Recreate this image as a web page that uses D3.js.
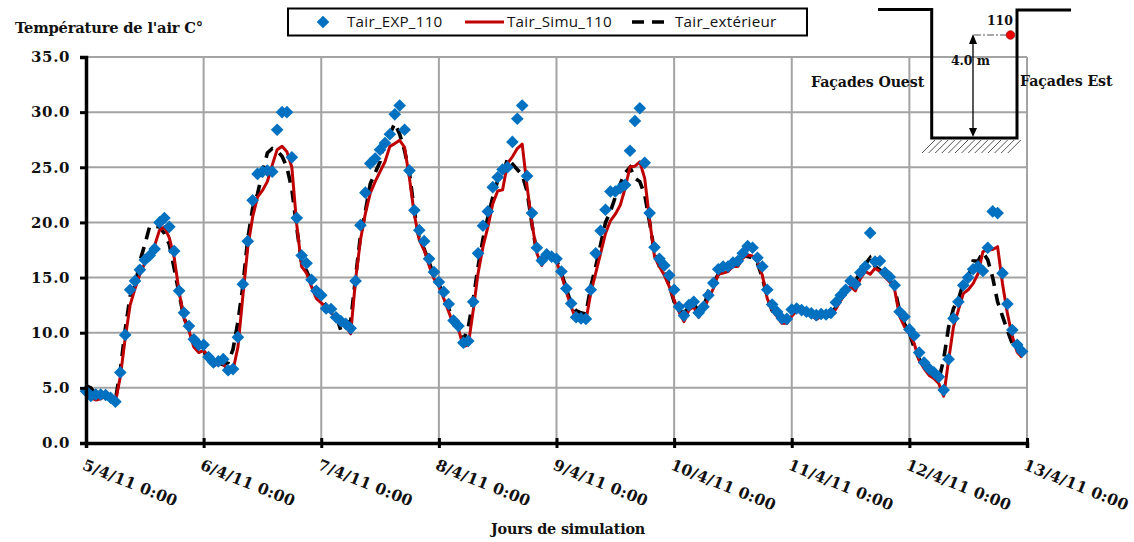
<!DOCTYPE html>
<html><head><meta charset="utf-8">
<script src="https://cdnjs.cloudflare.com/ajax/libs/d3/7.8.5/d3.min.js"></script>
<style>html,body{margin:0;padding:0;background:#fff}svg{display:block}
text{font-family:"DejaVu Serif",serif;font-weight:bold;fill:#111}</style></head>
<body><svg id="c" width="1134" height="542"></svg>
<script>
const yTicks=[0,5,10,15,20,25,30,35];
const dayLabels=["5/4/11 0:00","6/4/11 0:00","7/4/11 0:00","8/4/11 0:00","9/4/11 0:00","10/4/11 0:00","11/4/11 0:00","12/4/11 0:00","13/4/11 0:00"];
const yTitle="Température de l'air C°";
const xTitle="Jours de simulation";
const seriesNames=["Tair_EXP_110","Tair_Simu_110","Tair_extérieur"];
const tairExp=[4.7,4.26,4.4,4.4,4.35,4.1,3.75,6.4,9.8,13.9,14.7,15.7,16.6,17,17.6,20,20.4,19.6,17.4,13.8,11.8,10.6,9.4,8.9,
8.9,7.8,7.3,7.4,7.6,6.6,6.7,9.6,14.4,18.3,22,24.4,24.6,24.7,24.6,28.4,30,30,25.9,20.4,17,16.3,14.8,13.8,
13.4,12.2,12.15,11.4,11.05,10.8,10.4,14.7,19.75,22.7,25.35,25.8,26.6,27.2,28,29.8,30.6,28.4,24.7,21.1,19.3,18.3,16.7,15.5,
14.6,13.7,12.6,11.1,10.6,9.1,9.25,12.8,17.2,19.7,21,23.2,24.1,24.8,25,27.3,29.4,30.6,24.2,20.85,17.7,16.55,17.1,16.9,
16.7,15.55,14,12.65,11.4,11.3,11.25,13.9,17.2,19.25,21.15,22.8,22.8,23.1,23.4,26.5,29.2,30.35,25.4,20.85,17.75,16.7,16.1,15.2,
13.9,12.35,11.55,12.5,12.8,11.8,12.35,13.4,14.5,15.75,16,16,16.35,16.5,17.2,17.85,17.7,16.8,16,13.9,12.55,11.9,11.3,11.25,
12.1,12.2,12.05,11.9,11.75,11.6,11.7,11.65,11.8,12.75,13.4,13.9,14.7,14.4,15.45,16,19.05,16.45,16.5,15.45,15.05,14.3,11.9,11.45,
10.3,9.75,8.2,7.3,6.75,6.4,6,4.8,7.6,11.3,12.8,14.3,15,15.75,16,15.6,17.7,21,20.85,15.4,12.6,10.25,8.9,8.3];
const tairSimu=[4.5,4.1,3.9,4,4.3,4.1,3.7,6,9.5,12.5,14,15.3,16.3,16.8,17.9,19.3,19.6,18.6,16.8,13.7,11.3,10.2,8.7,8.2,
8.4,7.8,7,7.2,7.2,6.5,6.6,8.7,13.3,17.7,20.5,22.3,22.9,23.7,25.2,26.6,26.9,26.4,25,19.8,16,15.4,14.2,13.1,
12.7,12.3,11.8,11.3,10.8,10.6,9.9,14.8,18.4,20.8,22.65,23.7,24.6,25.5,26.9,27.15,27.45,26.8,24,20.7,18.4,17.5,16.1,14.9,
14.2,13.1,11.9,10.7,10.3,8.75,8.9,12,15.4,17.8,19.6,21.7,22.85,22.95,25.35,25.95,26.7,27.1,23.25,19.9,17.2,16.1,17.05,16.8,
16.4,15.3,13.7,12.35,11.15,11.1,11.1,13.6,15.4,17.2,19,20.15,20.75,21.55,23.1,25.05,25.1,25.5,24,20.2,16.9,16,15.2,14.2,
12.95,11.9,11,12.05,12.35,11.4,12.05,13.1,14,15.3,15.4,15.55,16,16,16.75,17.05,16.95,16.45,15.2,13.1,12.05,11.45,10.85,10.85,
11.5,12,12,11.8,11.6,11.2,11.5,11.45,11.5,12.15,12.95,13.7,14.2,13.8,14.9,15.55,15.3,15.85,15.55,15.05,14.6,13.9,11.5,10.55,
9.9,9,7.5,6.75,6.15,5.85,5.4,4.25,7.5,10.55,12.05,13.55,13.9,14.45,15.35,17.35,17.5,17.55,17.8,14.45,11.75,9.65,8.25,7.75];
const tairExt=[5.2,5,4.4,4.2,4.4,4.2,3.9,6.6,10.3,13.3,14.2,16.5,18,19.65,19.65,19.6,19,18,15.8,13.5,11.3,10.4,9.1,8.5,
8.4,7.5,7.2,7.3,7.1,7.3,8.5,11,14.2,18.5,21.3,22.6,24.5,26.3,26.7,26.5,26,25,23,19.5,16.3,15.6,14.6,13.5,
12.9,12.5,12,11.6,10.2,11,11,15,18.8,21,23.5,24.5,25.5,27.8,28,29,28,26.5,24.5,21,18.5,17.6,16.4,15.2,
14.4,13.4,12.2,11,10.7,9.3,10.5,13,16,18.5,20.5,22.3,23.8,24.2,25.8,25.3,24.8,24.3,22.8,19.8,17.2,16.3,17,16.9,
16.6,15.4,14,12.6,12,11.8,11.7,14.2,16,18,20,21,22.3,23.5,24.5,25,24,23.7,22.5,20,17.3,16,15.5,14.3,
12.8,12,11.8,12.3,12.6,12,12.2,13.8,14.5,15.3,15.6,15.8,16.3,17,17,16.9,16.8,16.3,15,13.2,12,11.5,11,11,
11.8,12.1,12.1,11.9,11.7,11.4,11.6,11.6,11.7,12.3,13,13.6,14.2,14.7,15.5,16.2,16.8,16,15.7,15.2,14.8,14,12,10.8,
10,8.6,7.6,7,6.4,6,5.7,7.6,10.5,12.2,13,14.5,15,16.5,16.5,17.3,16.6,15,12.8,11.5,10.2,9,8.5,8.2];

const svg=d3.select("#c");
const M={l:86,r:1027,t:57,b:443};
const t0=new Date(2011,3,5);
const hourDate=i=>d3.timeHour.offset(t0,i);
const dayDates=dayLabels.map((_,i)=>d3.timeDay.offset(t0,i));
const x=d3.scaleTime().domain([dayDates[0],dayDates[8]]).range([M.l,M.r]);
const y=d3.scaleLinear().domain([0,35]).range([M.b,M.t]);

// grid
const grid=svg.append("g").attr("stroke","#a3a3a3").attr("stroke-width",2);
grid.selectAll("line.h").data(yTicks.slice(1)).join("line").attr("class","h")
 .attr("x1",M.l).attr("x2",M.r).attr("y1",d=>y(d)).attr("y2",d=>y(d));
grid.selectAll("line.v").data(dayDates.slice(1)).join("line").attr("class","v")
 .attr("x1",d=>x(d)).attr("x2",d=>x(d)).attr("y1",M.t).attr("y2",M.b);

// series
const line=d3.line().x((d,i)=>x(hourDate(i))).y(d=>y(d));
svg.append("path").datum(tairExt).attr("d",line).attr("fill","none").attr("stroke","#000").attr("stroke-width",3.6).attr("stroke-dasharray","12,8");
svg.append("path").datum(tairSimu).attr("d",line).attr("fill","none").attr("stroke","#c00000").attr("stroke-width",3).attr("stroke-linejoin","round");
const diamond=d3.symbol().type(d3.symbolSquare).size(80);
svg.append("g").selectAll("path").data(tairExp).join("path").attr("d",diamond).attr("fill","#0070c0")
 .attr("transform",(d,i)=>`translate(${x(hourDate(i))},${y(d)}) rotate(45)`);

// axes
const yAxis=d3.axisLeft(y).tickValues(yTicks).tickFormat(d3.format(".1f")).tickSize(6).tickPadding(5);
const gy=svg.append("g").attr("transform",`translate(${M.l},0)`).call(yAxis);
gy.selectAll("path").attr("stroke","#000").attr("stroke-width",3.5);
gy.selectAll("line").attr("stroke","#000").attr("stroke-width",3);
gy.selectAll("text").style("font-size","15px").attr("letter-spacing","0.6").attr("fill","#111").attr("dy","0.32em").attr("x",-16);

const xAxis=d3.axisBottom(x).tickValues(dayDates).tickFormat((d,i)=>dayLabels[i]).tickSize(5);
const gx=svg.append("g").attr("transform",`translate(0,${M.b})`).call(xAxis);
gx.selectAll("path").attr("stroke","#000").attr("stroke-width",3.5);
gx.selectAll("line").attr("stroke","#000").attr("stroke-width",3).attr("y1",-5);
gx.selectAll("text").style("font-size","15.5px").attr("fill","#111").attr("text-anchor","start")
 .attr("y",0).attr("dy",0).attr("x",0).attr("letter-spacing","0.25")
 .attr("transform","translate(-5,26) rotate(22)");

svg.append("text").attr("x",15).attr("y",33).style("font-size","14.7px").attr("letter-spacing","-0.2").text(yTitle);
svg.append("text").attr("x",568).attr("y",534).attr("text-anchor","middle").style("font-size","14.4px").attr("letter-spacing","-0.2").text(xTitle);

// legend
const lg=svg.append("g");
lg.append("rect").attr("x",288).attr("y",8.5).attr("width",519).attr("height",27).attr("fill","#fff").attr("stroke","#000").attr("stroke-width",2);
lg.append("path").attr("d",diamond).attr("fill","#0070c0").attr("transform","translate(323,22) rotate(45)");
lg.append("line").attr("x1",465).attr("x2",504).attr("y1",22).attr("y2",22).attr("stroke","#c00000").attr("stroke-width",3);
lg.append("line").attr("x1",632).attr("x2",672).attr("y1",22).attr("y2",22).attr("stroke","#000").attr("stroke-width",3.6).attr("stroke-dasharray","12,8");
[347,507,675].forEach((xp,i)=>lg.append("text").attr("x",xp).attr("y",27).style("font-family","'Open Sans',sans-serif").style("font-weight","normal").style("font-size","15.2px").attr("letter-spacing","0.25").text(seriesNames[i]));

// section sketch
const s=svg.append("g");
s.append("path").attr("d","M878,9.5H931.7V138H1017V10H1071").attr("fill","none").attr("stroke","#000").attr("stroke-width",3);
const hatch=d3.range(0,14).map(i=>925+i*6.6);
s.selectAll("line.hh").data(hatch).join("line").attr("class","hh")
 .attr("x1",d=>d+10).attr("y1",140).attr("x2",d=>d-3).attr("y2",153).attr("stroke","#555").attr("stroke-width",1);
s.append("line").attr("x1",973).attr("x2",973).attr("y1",40).attr("y2",132).attr("stroke","#000").attr("stroke-width",1.3);
s.append("path").attr("d","M973,34L969,44H977ZM973,137L969,128H977Z").attr("fill","#000");
s.append("line").attr("x1",974).attr("x2",1006).attr("y1",35).attr("y2",35).attr("stroke","#555").attr("stroke-width",1.2).attr("stroke-dasharray","7,2,2,2");
s.append("circle").attr("cx",1010.5).attr("cy",35).attr("r",4.3).attr("fill","#f00000").attr("stroke","#900").attr("stroke-width",.7);
const lab=[["110",987,25,12.5],["4.0 m",951,65,12.5],["Façades Ouest",811,87,14.2],["Façades Est",1020,86,14.2]];
s.selectAll("text").data(lab).join("text").attr("x",d=>d[1]).attr("y",d=>d[2]).style("font-size",d=>d[3]+"px").attr("letter-spacing","-0.1").text(d=>d[0]);
</script></body></html>
